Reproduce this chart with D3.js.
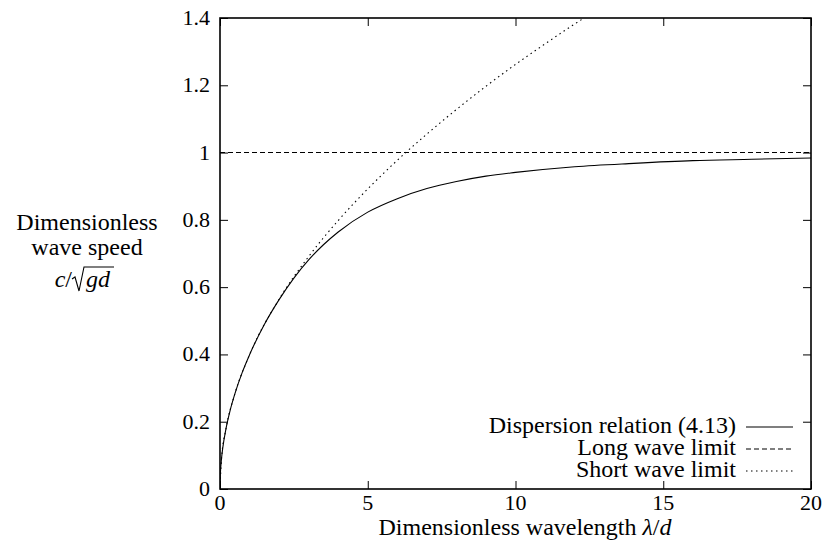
<!DOCTYPE html>
<meta charset="utf-8">
<script src="https://d3js.org/d3.v7.min.js"></script>
<body style="margin:0">
<script>

// values
var lambdaPts = [0, 0.01, 0.05, 0.1, 0.2, 0.35, 0.5, 0.75, 1, 1.5, 2, 2.5, 3, 3.5, 4, 5, 6, 7, 8, 9, 10, 12, 14, 16, 18, 20];
var dispersion = [0, 0.040, 0.089, 0.126, 0.178, 0.236, 0.282, 0.346, 0.399, 0.489, 0.563, 0.627, 0.681, 0.726, 0.764, 0.823, 0.863, 0.893, 0.914, 0.930, 0.941, 0.958, 0.968, 0.976, 0.980, 0.984];
var shortX = [0, 0.05, 0.2, 0.5, 1, 2, 3, 4, 5, 6, 7, 8, 9, 10, 11, 12, 12.32];
var shortY = [0, 0.089, 0.178, 0.282, 0.399, 0.564, 0.691, 0.798, 0.892, 0.977, 1.055, 1.128, 1.197, 1.262, 1.323, 1.382, 1.400];
var longX = [0, 20];
var longY = [1, 1];
var xTicks = [0, 5, 10, 15, 20];
var yTicks = [0, 0.2, 0.4, 0.6, 0.8, 1, 1.2, 1.4];
var legendNames = ["Dispersion relation (4.13)", "Long wave limit", "Short wave limit"];
var legendDash = ["none", "5,3", "1.5,3.5"];

var fam = "C059";

var W = 829, H = 543;
var margin = {top: 18, right: 18, bottom: 54, left: 220};
var width = W - margin.left - margin.right,
    height = H - margin.top - margin.bottom;

var svg = d3.select("body").append("svg").attr("width", W).attr("height", H);

var x = d3.scaleLinear().domain([0, 20]).range([margin.left, margin.left + width]);
var y = d3.scaleLinear().domain([0, 1.4]).range([margin.top + height, margin.top]);

// plain text helper
function addText(px, py, size, anchor) {
  return svg.append("text").attr("x", px).attr("y", py)
    .style("font-family", "'" + fam + "'").style("font-size", size + "px")
    .style("text-anchor", anchor);
}

// tick marks on all four sides, pointing inwards (labels drawn separately)
svg.append("g").attr("transform", "translate(0," + (margin.top + height) + ")")
  .call(d3.axisBottom(x).tickValues(xTicks).tickSizeInner(-8).tickSizeOuter(0).tickFormat(""));
svg.append("g").attr("transform", "translate(0," + margin.top + ")")
  .call(d3.axisTop(x).tickValues(xTicks).tickSizeInner(-8).tickSizeOuter(0).tickFormat(""));
svg.append("g").attr("transform", "translate(" + margin.left + ",0)")
  .call(d3.axisLeft(y).tickValues(yTicks).tickSizeInner(-8).tickSizeOuter(0).tickFormat(""));
svg.append("g").attr("transform", "translate(" + (margin.left + width) + ",0)")
  .call(d3.axisRight(y).tickValues(yTicks).tickSizeInner(-8).tickSizeOuter(0).tickFormat(""));
svg.selectAll(".domain").remove();
svg.selectAll(".tick line").attr("stroke", "#000").attr("stroke-width", 1);

xTicks.forEach(function(t) {
  addText(x(t), margin.top + height + 21, 22, "middle").text(String(t));
});
yTicks.forEach(function(t) {
  addText(margin.left - 10, y(t) + 7, 22, "end").text(String(+t.toFixed(1)));
});

svg.append("rect")
  .attr("x", margin.left).attr("y", margin.top)
  .attr("width", width).attr("height", height)
  .attr("fill", "none").attr("stroke", "#000").attr("stroke-width", 1.6);

svg.append("clipPath").attr("id", "plotclip")
  .append("rect").attr("x", margin.left).attr("y", margin.top)
  .attr("width", width).attr("height", height);

var line = d3.line()
  .x(function(d) { return x(d[0]); })
  .y(function(d) { return y(d[1]); })
  .curve(d3.curveMonotoneX);

var series = [
  d3.zip(lambdaPts, dispersion),
  d3.zip(longX, longY),
  d3.zip(shortX, shortY)
];

var plot = svg.append("g").attr("clip-path", "url(#plotclip)");
series.forEach(function(s, i) {
  plot.append("path")
    .datum(s)
    .attr("fill", "none")
    .attr("stroke", "#000")
    .attr("stroke-width", 1.1)
    .attr("stroke-dasharray", legendDash[i])
    .attr("d", line);
});

// legend
legendNames.forEach(function(name, i) {
  var ly = 427 + i * 22;
  addText(736, ly + 6, 24, "end").text(name);
  svg.append("line")
    .attr("x1", 746).attr("x2", 793)
    .attr("y1", ly).attr("y2", ly)
    .attr("stroke", "#000").attr("stroke-width", 1.1)
    .attr("stroke-dasharray", legendDash[i]);
});

// x label
var xl = addText(525, 535, 24, "middle").text("Dimensionless wavelength ");
xl.append("tspan").style("font-style", "italic").text("λ");
xl.append("tspan").text("/");
xl.append("tspan").style("font-style", "italic").text("d");

// y label
addText(87, 230, 24, "middle").text("Dimensionless");
addText(87, 255, 24, "middle").text("wave speed");

// c / sqrt(gd), radical drawn by hand
var by = 287, rx = 72;
var part1 = addText(rx, by, 24, "end");
part1.append("tspan").style("font-style", "italic").text("c");
part1.append("tspan").text("/");
addText(rx + 14, by, 24, "start").style("font-style", "italic").text("gd");
svg.append("path")
  .attr("d", "M" + rx + "," + (by - 8) + "L" + (rx + 3) + "," + (by - 10) +
    "L" + (rx + 7) + "," + (by + 4) + "L" + (rx + 12) + "," + (by - 20) +
    "L" + (rx + 42) + "," + (by - 20))
  .attr("fill", "none").attr("stroke", "#000").attr("stroke-width", 1.1);

</script>
</body>
